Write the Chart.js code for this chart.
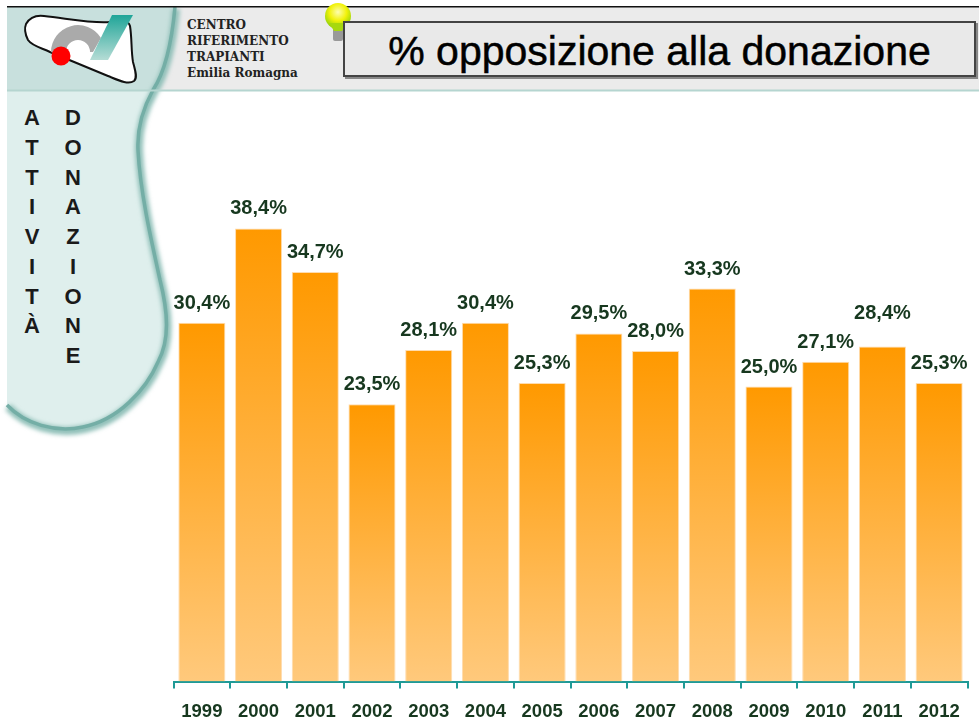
<!DOCTYPE html>
<html lang="it">
<head>
<meta charset="utf-8">
<title>% opposizione alla donazione</title>
<script src="https://cdn.jsdelivr.net/npm/chart.js@4"></script>
<style>
  html, body { margin: 0; padding: 0; background: #fff; }
  #page { position: relative; width: 979px; height: 721px; overflow: hidden; font-family: "Liberation Sans", Arial, sans-serif; }
  #page svg, #page canvas { position: absolute; left: 0; top: 0; }
  #org { position: absolute; left: 187px; top: 17px; font: bold 12px/16px "DejaVu Serif", serif; color: #222; white-space: pre; }
  #title { position: absolute; left: 343px; top: 21px; width: 633px; height: 56px; box-sizing: border-box; border: 2px solid #444; background: #e9e9e9;
           box-shadow: 2px 2px 0 #888; text-align: center; font-size: 41px; line-height: 56px; color: #000; -webkit-text-stroke: 0.5px #000; }
  .side { position: absolute; top: 103px; width: 30px; text-align: center; font-weight: bold; font-size: 22px; line-height: 29.75px; color: #1a1a1a; }
  .side span { display: block; }
</style>
</head>
<body>
<div id="page">
  <svg width="979" height="721" viewBox="0 0 979 721">
    <defs>
      <filter id="soft" x="-20%" y="-20%" width="140%" height="140%"><feGaussianBlur stdDeviation="2"/></filter>
      <linearGradient id="wedge" x1="0" y1="0" x2="0" y2="1">
        <stop offset="0" stop-color="#1fa598"/><stop offset="1" stop-color="#b5dcd5"/>
      </linearGradient>
      <radialGradient id="bulb" cx="0.5" cy="0.35" r="0.6">
        <stop offset="0" stop-color="#fdfdb0"/><stop offset="0.55" stop-color="#f2f20a"/><stop offset="1" stop-color="#9ad40c"/>
      </radialGradient>
    </defs>
    <rect x="7" y="7" width="972" height="83" fill="#ebebeb"/>
    <path d="M7 7 H175 C172 40 165 72 153 90 H7 Z" fill="#c8e0dd"/>
    <path d="M7 90 H153 C142 110 137 130 138 150 C140 190 150 235 160 280 C168 312 170 340 158 362 C146 390 118 420 83 427 C55 433 25 424 7 405 Z" fill="#dfefed"/>
    <path d="M175 7 C172 40 165 72 153 90 C142 110 137 130 138 150 C140 190 150 235 160 280 C168 312 170 340 158 362 C146 390 118 420 83 427 C55 433 25 424 7 405" fill="none" stroke="#8fbfb8" stroke-width="8" filter="url(#soft)" transform="translate(1 2)"/>
    <path d="M175 7 C172 40 165 72 153 90 C142 110 137 130 138 150 C140 190 150 235 160 280 C168 312 170 340 158 362 C146 390 118 420 83 427 C55 433 25 424 7 405" fill="none" stroke="#74aea6" stroke-width="3.5"/>
    <rect x="7" y="89.5" width="972" height="2" fill="#b5d5d0"/>
    <rect x="7" y="6" width="972" height="1.5" fill="#111"/>
    <path d="M26 24 C30 17 36 15 44 16 C70 19 95 24 110 22 C118 21 128 19 130 26 C132 38 131 50 133 62 C135 70 138 78 134 81 C128 85 118 80 108 76 L50 52 C42 48 32 46 28 40 C25 34 24 29 26 24 Z" fill="#fff" stroke="#111" stroke-width="2"/>
    <path d="M51 52 A27 27 0 0 1 101 38 L93 52 H90 A12 12 0 0 0 66 52 L66 57 Z" fill="#aaa"/>
    <circle cx="61" cy="56" r="9.5" fill="#f00"/>
    <path d="M112 15 H133 L108 60 H90 Z" fill="url(#wedge)"/>
    <rect x="333" y="28" width="10" height="13" rx="2" fill="#999"/>
    <circle cx="338" cy="16" r="13" fill="url(#bulb)"/>
    <path d="M329 23 H347 L342 31 H334 Z" fill="#a6d80e"/>
  </svg>
  <div id="org">CENTRO
RIFERIMENTO
TRAPIANTI
Emilia Romagna</div>
  <div id="title">% opposizione alla donazione</div>
  <div class="side" id="w1" style="left:17px"></div>
  <div class="side" id="w2" style="left:58px"></div>
  <canvas id="chart" width="979" height="721"></canvas>
</div>
<script>
const years = ['1999','2000','2001','2002','2003','2004','2005','2006','2007','2008','2009','2010','2011','2012'];
const opposizione = [30.4, 38.4, 34.7, 23.5, 28.1, 30.4, 25.3, 29.5, 28.0, 33.3, 25.0, 27.1, 28.4, 25.3];
const sideWords = ['ATTIVITÀ', 'DONAZIONE'];

sideWords.forEach((word, i) => {
  document.getElementById('w' + (i + 1)).innerHTML = [...word].map(c => '<span>' + c + '</span>').join('');
});

// gradient runs over each single bar, top to base
const barFill = (ctx) => {
  const chart = ctx.chart;
  if (!chart.chartArea || ctx.raw === undefined) return '#FFA01E';
  const y = chart.scales.y;
  const g = chart.ctx.createLinearGradient(0, y.getPixelForValue(ctx.raw), 0, y.getPixelForValue(0));
  g.addColorStop(0, '#FF9900');
  g.addColorStop(1, '#FFC97C');
  return g;
};

const valueLabels = {
  id: 'valueLabels',
  afterDatasetsDraw(chart) {
    const { ctx } = chart;
    const meta = chart.getDatasetMeta(0);
    ctx.save();
    ctx.font = 'bold 20px "Liberation Sans", Arial, sans-serif';
    ctx.fillStyle = '#17381f';
    ctx.textAlign = 'center';
    ctx.textBaseline = 'alphabetic';
    meta.data.forEach((bar, i) => {
      // the 2011 label sits higher in the original
      const lift = years[i] === '2011' ? 27 : 14;
      ctx.fillText(opposizione[i].toFixed(1).replace('.', ',') + '%', bar.x, bar.y - lift);
    });
    ctx.restore();
  }
};

new Chart(document.getElementById('chart'), {
  type: 'bar',
  data: {
    labels: years,
    datasets: [{
      label: '% opposizione',
      data: opposizione,
      backgroundColor: barFill,
      borderColor: '#ffdcae',
      borderWidth: 1,
      categoryPercentage: 0.83,
      barPercentage: 1
    }]
  },
  options: {
    responsive: false,
    animation: false,
    layout: { padding: { left: 173.5, right: 11.5, top: 91.5, bottom: 0 } },
    plugins: { legend: { display: false }, tooltip: { enabled: false } },
    scales: {
      y: { display: false, min: 0, max: 50 },
      x: {
        afterFit: (s) => { s.height = 39.5; },
        border: { color: '#1f9a96', width: 2 },
        grid: { drawOnChartArea: false, color: '#1f9a96', lineWidth: 2, tickLength: 7 },
        ticks: { color: '#17381f', padding: 12, maxRotation: 0, font: { family: '"Liberation Sans", Arial, sans-serif', size: 18.5, weight: 'bold' } }
      }
    }
  },
  plugins: [valueLabels]
});
</script>
</body>
</html>
